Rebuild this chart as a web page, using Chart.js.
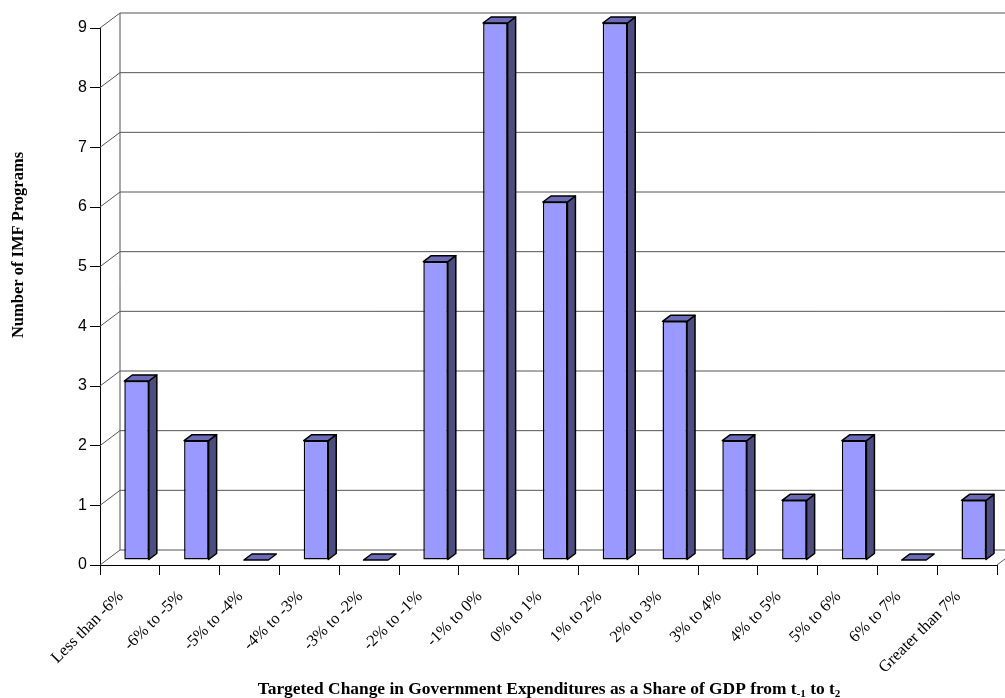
<!DOCTYPE html>
<html>
<head>
<meta charset="utf-8">
<script src="https://cdn.jsdelivr.net/npm/chart.js@4.4.1/dist/chart.umd.min.js"></script>
<style>
  html, body { margin: 0; padding: 0; background: #ffffff; }
  #wrap { width: 1005px; height: 698px; position: relative; }
</style>
</head>
<body>
<div id="wrap"><canvas id="c" width="1005" height="698"></canvas></div>
<script>
// Histogram of programmes by targeted change in expenditure share
const categories = [
  'Less than -6%', '-6% to -5%', '-5% to -4%', '-4% to -3%', '-3% to -2%',
  '-2% to -1%', '-1% to 0%', '0% to 1%', '1% to 2%', '2% to 3%',
  '3% to 4%', '4% to 5%', '5% to 6%', '6% to 7%', 'Greater than 7%'
];
const programCounts = [3, 2, 0, 2, 0, 5, 9, 6, 9, 4, 2, 1, 2, 0, 1];
const yTickValues = [0, 1, 2, 3, 4, 5, 6, 7, 8, 9];

const yTitle = 'Number of IMF Programs';
const xTitleParts = [
  { text: 'Targeted Change in Government Expenditures as a Share of GDP from t', sub: false },
  { text: '-1', sub: true },
  { text: ' to t', sub: false },
  { text: '2', sub: true }
];

// 3-D geometry: full depth of the floor/walls and the slab a bar occupies
const WALL_DX = 20, WALL_DY = -15;
const BAR_SHIFT_X = 20 / 3, BAR_SHIFT_Y = -5;
const BAR_DX = 8, BAR_DY = -6;

const SERIF = '"Liberation Serif", "Times New Roman", serif';
const SANS = '"Liberation Sans", Arial, sans-serif';

const threeD = {
  id: 'threeD',
  beforeDatasetsDraw(chart) {
    const { ctx, chartArea: a, scales: { y } } = chart;
    ctx.save();
    ctx.strokeStyle = '#555555';
    ctx.lineWidth = 1;
    const top = y.getPixelForValue(yTickValues[yTickValues.length - 1]);
    const bottom = y.getPixelForValue(0);
    // back wall edge
    ctx.beginPath();
    ctx.moveTo(a.left + WALL_DX, top + WALL_DY);
    ctx.lineTo(a.left + WALL_DX, bottom + WALL_DY);
    ctx.stroke();
    // gridlines on the back wall and their runs across the side wall
    yTickValues.forEach(v => {
      const py = y.getPixelForValue(v);
      ctx.beginPath();
      ctx.moveTo(a.left, py);
      ctx.lineTo(a.left + WALL_DX, py + WALL_DY);
      ctx.lineTo(a.right + WALL_DX, py + WALL_DY);
      ctx.stroke();
    });
    // right edge of the floor
    ctx.beginPath();
    ctx.moveTo(a.right, bottom);
    ctx.lineTo(a.right + WALL_DX, bottom + WALL_DY);
    ctx.stroke();
    ctx.restore();
    // bars sit a third of the way into the depth
    ctx.save();
    ctx.translate(BAR_SHIFT_X, BAR_SHIFT_Y);
  },
  afterDatasetsDraw(chart) {
    const { ctx } = chart;
    const meta = chart.getDatasetMeta(0);
    ctx.lineWidth = 1.5;
    ctx.strokeStyle = '#000000';
    ctx.lineJoin = 'round';
    meta.data.forEach(el => {
      const { x, y, base, width } = el.getProps(['x', 'y', 'base', 'width'], true);
      const L = x - width / 2, R = x + width / 2;
      // side face
      if (base - y > 0.5) {
        ctx.beginPath();
        ctx.moveTo(R, y);
        ctx.lineTo(R + BAR_DX, y + BAR_DY);
        ctx.lineTo(R + BAR_DX, base + BAR_DY);
        ctx.lineTo(R, base);
        ctx.closePath();
        ctx.fillStyle = '#4d4d80';
        ctx.fill();
        ctx.stroke();
      }
      // top face
      ctx.beginPath();
      ctx.moveTo(L, y);
      ctx.lineTo(R, y);
      ctx.lineTo(R + BAR_DX, y + BAR_DY);
      ctx.lineTo(L + BAR_DX, y + BAR_DY);
      ctx.closePath();
      ctx.fillStyle = '#6b6bb8';
      ctx.fill();
      ctx.stroke();
    });
    ctx.restore();
  },
  afterDraw(chart) {
    const { ctx } = chart;
    ctx.save();
    ctx.fillStyle = '#000000';
    // y-axis title
    ctx.font = 'bold 16.5px ' + SERIF;
    ctx.textAlign = 'center';
    ctx.textBaseline = 'middle';
    ctx.translate(19, 245);
    ctx.rotate(-Math.PI / 2);
    ctx.fillText(yTitle, 0, 0);
    ctx.restore();

    // x-axis title with subscripts
    ctx.save();
    ctx.fillStyle = '#000000';
    ctx.textBaseline = 'alphabetic';
    ctx.textAlign = 'left';
    const mainFont = 'bold 17.4px ' + SERIF, subFont = 'bold 11px ' + SERIF;
    let total = 0;
    xTitleParts.forEach(p => { ctx.font = p.sub ? subFont : mainFont; total += ctx.measureText(p.text).width; });
    let cx = 549 - total / 2;
    const baseY = 694;
    xTitleParts.forEach(p => {
      ctx.font = p.sub ? subFont : mainFont;
      ctx.fillText(p.text, cx, p.sub ? baseY + 3 : baseY);
      cx += ctx.measureText(p.text).width;
    });
    ctx.restore();
  }
};

new Chart(document.getElementById('c'), {
  type: 'bar',
  data: {
    labels: categories,
    datasets: [{
      data: programCounts,
      backgroundColor: '#9999ff',
      borderColor: '#000000',
      borderWidth: 1.5,
      borderSkipped: false,
      categoryPercentage: 1,
      barPercentage: 0.41,
      clip: false
    }]
  },
  options: {
    responsive: false,
    animation: false,
    events: [],
    layout: { padding: { top: 28, right: 8, left: 0, bottom: 0 } },
    plugins: { legend: { display: false }, tooltip: { enabled: false }, title: { display: false } },
    scales: {
      x: {
        type: 'category',
        offset: true,
        grid: { offset: true, drawOnChartArea: false, drawTicks: true, tickLength: 10, color: '#000000', lineWidth: 1 },
        border: { display: true, color: '#000000', width: 1 },
        ticks: {
          autoSkip: false, minRotation: 45, maxRotation: 45, padding: 12, labelOffset: -9,
          color: '#000000', font: { family: SERIF, size: 16.5 }
        },
        afterFit(s) { s.height = 133; s.paddingLeft = 0; s.paddingRight = 0; }
      },
      y: {
        min: 0, max: 9,
        grid: { drawOnChartArea: false, drawTicks: true, tickLength: 10, color: '#000000', lineWidth: 1 },
        border: { display: true, color: '#000000', width: 1 },
        ticks: {
          stepSize: 1, padding: 3, color: '#000000', font: { family: SANS, size: 16 }
        },
        afterFit(s) { s.width = 100; s.paddingTop = 0; s.paddingBottom = 0; }
      }
    }
  },
  plugins: [threeD]
});
</script>
</body>
</html>
